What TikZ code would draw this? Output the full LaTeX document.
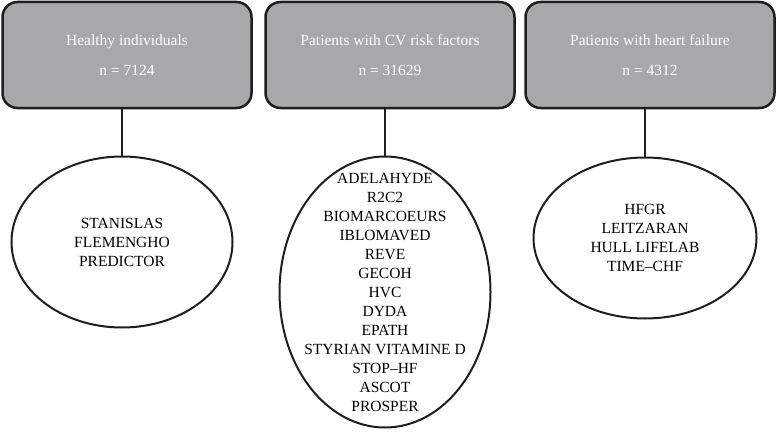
\documentclass[tikz,border=0pt]{standalone}
\usepackage{fontspec}
\setmainfont{Liberation Serif}
\usetikzlibrary{shapes.geometric}
\definecolor{boxgray}{RGB}{168,168,170}
\definecolor{inkline}{RGB}{30,30,30}
\tikzset{
  groupbox/.style={rectangle, rounded corners=15pt, draw=inkline, line width=2.5pt,
    fill=boxgray, text=white, minimum width=249pt, minimum height=106pt,
    align=center, font=\fontsize{15.5}{30}\selectfont},
  cohort/.style={ellipse, draw=inkline, line width=2pt, inner sep=0pt},
  cohortlist/.style={align=center, inner sep=0pt, font=\fontsize{15.5}{19}\selectfont},
  link/.style={draw=inkline, line width=2.5pt}
}
\begin{document}
\begin{tikzpicture}[x=1pt,y=-1pt]
\useasboundingbox (0,0) rectangle (779,436);
\node[groupbox] (healthy) at (127,55){Healthy individuals\\n = 7124};
\node[groupbox] (cvrisk) at (390,55){Patients with CV risk factors\\n = 31629};
\node[groupbox] (hf) at (650,55){Patients with heart failure\\n = 4312};
\node[cohort, minimum width=221pt, minimum height=171pt] (healthyset) at (122,242){};
\node[cohortlist] (healthylist) at (healthyset){STANISLAS\\FLEMENGHO\\PREDICTOR};
\node[cohort, minimum width=211pt, minimum height=271pt] (cvriskset) at (385,292){};
\node[cohortlist] (cvrisklist) at (cvriskset){ADELAHYDE\\R2C2\\BIOMARCOEURS\\IBLOMAVED\\REVE\\GECOH\\HVC\\DYDA\\EPATH\\STYRIAN VITAMINE D\\STOP--HF\\ASCOT\\PROSPER};
\node[cohort, minimum width=223pt, minimum height=161pt] (hfset) at (645,238){};
\node[cohortlist] (hflist) at (hfset){HFGR\\LEITZARAN\\HULL LIFELAB\\TIME--CHF};
\draw[link](healthyset.north) -- (healthyset.north |- healthy.south);
\draw[link](cvriskset.north) -- (cvriskset.north |- cvrisk.south);
\draw[link](hfset.north) -- (hfset.north |- hf.south);
\end{tikzpicture}
\end{document}
